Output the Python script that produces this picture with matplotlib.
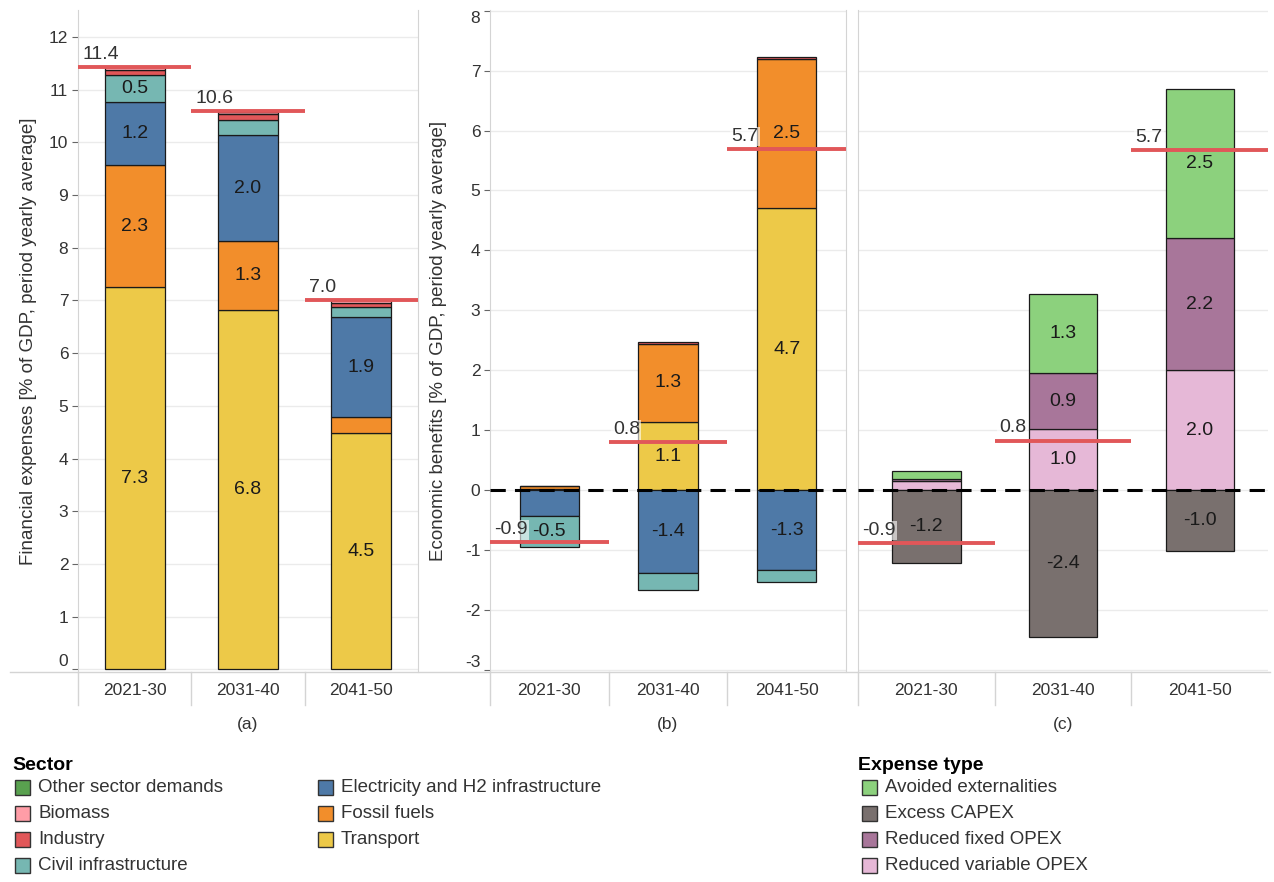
import matplotlib
matplotlib.use('Agg')
import matplotlib.pyplot as plt
from matplotlib.patches import Rectangle
from matplotlib.lines import Line2D

plt.rcParams['font.family'] = ['Liberation Sans', 'DejaVu Sans']

periods = ['2021-30', '2031-40', '2041-50']

# Panel (a): financial expenses by sector [% of GDP]
fin_transport = [7.26, 6.81, 4.48]
fin_fossil = [2.30, 1.31, 0.31]
fin_electricity = [1.20, 2.02, 1.89]
fin_civil = [0.51, 0.29, 0.20]
fin_industry = [0.11, 0.10, 0.08]
fin_biomass = [0.04, 0.05, 0.04]
fin_other = [0.01, 0.02, 0.01]

# Panel (b): economic benefits by sector [% of GDP]
ben_transport = [0.03, 1.14, 4.70]
ben_fossil = [0.04, 1.30, 2.49]
ben_industry = [0.01, 0.03, 0.03]
ben_electricity = [-0.43, -1.38, -1.33]
ben_civil = [-0.52, -0.29, -0.20]

# Panel (c): economic benefits by expense type [% of GDP]
typ_variable = [0.15, 1.02, 2.00]
typ_fixed = [0.04, 0.93, 2.21]
typ_avoided = [0.14, 1.32, 2.48]
typ_capex = [-1.21, -2.44, -1.02]

sector_names = ['Other sector demands', 'Biomass', 'Industry', 'Civil infrastructure',
                'Electricity and H2 infrastructure', 'Fossil fuels', 'Transport']
type_names = ['Avoided externalities', 'Excess CAPEX', 'Reduced fixed OPEX', 'Reduced variable OPEX']

COL = {
    'Other sector demands': '#59A14F',
    'Biomass': '#FF9DA7',
    'Industry': '#E15759',
    'Civil infrastructure': '#76B7B2',
    'Electricity and H2 infrastructure': '#4E79A7',
    'Fossil fuels': '#F28E2B',
    'Transport': '#EDC948',
    'Avoided externalities': '#8CD17D',
    'Excess CAPEX': '#79706E',
    'Reduced fixed OPEX': '#A8769A',
    'Reduced variable OPEX': '#E6B8D7',
}

W, H = 1274, 882
fig = plt.figure(figsize=(W / 100, H / 100), dpi=100)


def ax_at(x0, x1, y0, y1):
    return fig.add_axes([x0 / W, 1 - y1 / H, (x1 - x0) / W, (y1 - y0) / H])


axA = ax_at(78, 418, 10, 672)
axB = ax_at(490, 846, 10, 672)
axC = ax_at(858, 1268, 10, 672)

GRID = '#ebebeb'
FRAME = '#d4d4d4'
TXT = '#333333'
VAL_FS = 14
TICK_FS = 12.5


def stack(ax, series, width):
    pos = [0.0] * len(periods)
    neg = [0.0] * len(periods)
    x = list(range(len(periods)))
    for name, vals in series:
        bottoms = []
        for i, v in enumerate(vals):
            if v >= 0:
                bottoms.append(pos[i]); pos[i] += v
            else:
                bottoms.append(neg[i]); neg[i] += v
        ax.bar(x, vals, width=width, bottom=bottoms, color=COL[name],
               edgecolor='#1a1a1a', linewidth=0.9, zorder=3)
        for i, v in enumerate(vals):
            if abs(v) >= 0.45:
                ax.text(i, bottoms[i] + v / 2, f'{v:.1f}', ha='center', va='center',
                        fontsize=VAL_FS, color='#1a1a1a', zorder=5)
    return [p + n for p, n in zip(pos, neg)]


def totals(ax, nets, box):
    for i, t in enumerate(nets):
        ax.plot([i - 0.5, i + 0.5], [t, t], color='#E15759', lw=2.8,
                solid_capstyle='butt', zorder=6)
        kw = {}
        if box:
            kw['bbox'] = dict(facecolor='white', edgecolor='none', alpha=0.6, pad=1.0)
        ax.annotate(f'{t:.1f}', (i - 0.5, t), xytext=(3, 3), textcoords='offset points',
                    ha='left', va='bottom', fontsize=VAL_FS, color=TXT, zorder=7, **kw)


def style(ax, ylim, ticks, labels=True):
    ax.set_xlim(-0.5, 2.5)
    ax.set_ylim(*ylim)
    ax.set_yticks(ticks)
    ax.grid(axis='y', color=GRID, lw=1, zorder=0)
    ax.set_axisbelow(True)
    for s in ['top', 'bottom']:
        ax.spines[s].set_visible(False)
    ax.spines['left'].set_color(FRAME)
    ax.spines['right'].set_color(FRAME)
    ax.set_xticks(range(3))
    ax.set_xticklabels(periods, fontsize=TICK_FS, color=TXT)
    ax.tick_params(axis='x', length=0, pad=8)
    if labels:
        ax.tick_params(axis='y', length=4, color='#666666', labelsize=TICK_FS, labelcolor=TXT, pad=3)
        ax.set_yticklabels([f'{t:g}' for t in ticks])
    else:
        ax.tick_params(axis='y', length=0, labelleft=False)
    for xb in [0.5, 1.5]:
        ax.add_line(Line2D([xb, xb], [0, -33 / 662], transform=ax.get_xaxis_transform(),
                           color=FRAME, lw=1, clip_on=False))


# Panel (a)
netA = stack(axA, [('Transport', fin_transport), ('Fossil fuels', fin_fossil),
                   ('Electricity and H2 infrastructure', fin_electricity),
                   ('Civil infrastructure', fin_civil), ('Industry', fin_industry),
                   ('Biomass', fin_biomass), ('Other sector demands', fin_other)], 0.53)
style(axA, (-0.05, 12.51), list(range(0, 13)))
totals(axA, netA, False)
axA.set_ylabel('Financial expenses [% of GDP, period yearly average]', fontsize=13.5, color=TXT)
axA.yaxis.set_label_coords(-0.12, 0.5)
axA.get_yticklabels()[0].set_va('bottom')

# Panel (b)
netB = stack(axB, [('Transport', ben_transport), ('Fossil fuels', ben_fossil),
                   ('Industry', ben_industry),
                   ('Electricity and H2 infrastructure', ben_electricity),
                   ('Civil infrastructure', ben_civil)], 0.5)
style(axB, (-3.03, 8.01), list(range(-3, 9)))
axB.axhline(0, color='black', lw=2.2, ls=(0, (5, 3)), zorder=4)
totals(axB, netB, True)
axB.set_ylabel('Economic benefits [% of GDP, period yearly average]', fontsize=13.5, color=TXT)
axB.yaxis.set_label_coords(-0.12, 0.5)
axB.get_yticklabels()[0].set_va('bottom')
axB.get_yticklabels()[-1].set_va('top')

# Panel (c)
netC = stack(axC, [('Reduced variable OPEX', typ_variable), ('Reduced fixed OPEX', typ_fixed),
                   ('Avoided externalities', typ_avoided), ('Excess CAPEX', typ_capex)], 0.5)
style(axC, (-3.03, 8.01), list(range(-3, 9)), labels=False)
axC.spines['right'].set_visible(False)
axC.axhline(0, color='black', lw=2.2, ls=(0, (5, 3)), zorder=4)
totals(axC, netC, True)

# Frame lines
fig.add_artist(Line2D([10 / W, 1270 / W], [1 - 672 / H] * 2, color=FRAME, lw=1))
for xpix in [78, 490, 858]:
    fig.add_artist(Line2D([xpix / W] * 2, [1 - 672 / H, 1 - 705 / H], color=FRAME, lw=1))

# Panel captions
for ax, lab in [(axA, '(a)'), (axB, '(b)'), (axC, '(c)')]:
    b = ax.get_position()
    fig.text(b.x0 + b.width / 2, 1 - 725 / H, lab, ha='center', va='center', fontsize=TICK_FS, color=TXT)


# Legends
def legend_item(xsq, y, name):
    fig.add_artist(Rectangle((xsq / W, 1 - (y + 7.5) / H), 15 / W, 15 / H,
                             facecolor=COL[name], edgecolor='#333333', lw=1,
                             transform=fig.transFigure))
    fig.text((xsq + 23) / W, 1 - y / H, name, ha='left', va='center', fontsize=13.5, color=TXT)


fig.text(12 / W, 1 - 765 / H, 'Sector', ha='left', va='center', fontsize=14,
         fontweight='bold', color='black')
rows = [787, 813, 839, 865]
for k, name in enumerate(sector_names[:4]):
    legend_item(15, rows[k], name)
for k, name in enumerate(sector_names[4:]):
    legend_item(318, rows[k], name)

fig.text(858 / W, 1 - 765 / H, 'Expense type', ha='left', va='center', fontsize=14,
         fontweight='bold', color='black')
for k, name in enumerate(type_names):
    legend_item(862, rows[k], name)

fig.savefig('out.png', dpi=100, facecolor='white')
